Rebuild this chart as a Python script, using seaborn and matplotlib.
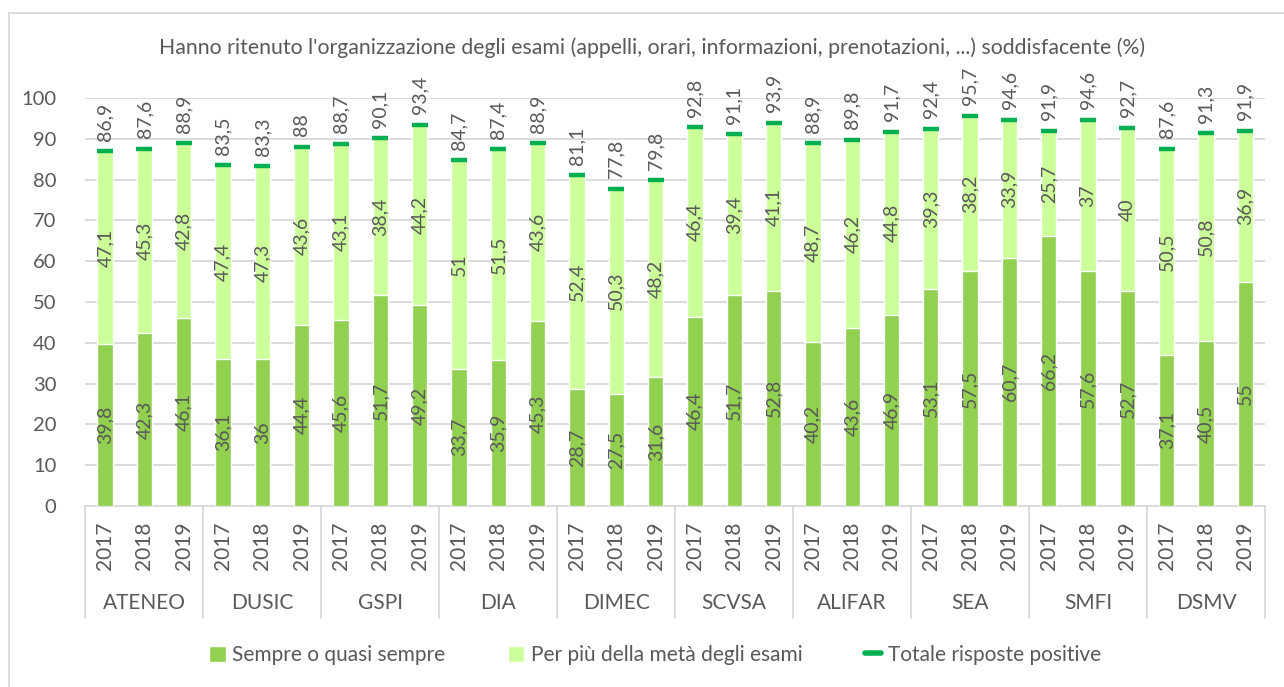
import numpy as np
import pandas as pd
import matplotlib
matplotlib.use("Agg")
import matplotlib.pyplot as plt
import seaborn as sns
from matplotlib.patches import Patch
from matplotlib.lines import Line2D
import matplotlib.transforms as mtransforms

# --- data ---
groups = ["ATENEO", "DUSIC", "GSPI", "DIA", "DIMEC", "SCVSA", "ALIFAR", "SEA", "SMFI", "DSMV"]
years = ["2017", "2018", "2019"]

sempre = [39.8, 42.3, 46.1, 36.1, 36, 44.4, 45.6, 51.7, 49.2, 33.7, 35.9, 45.3,
          28.7, 27.5, 31.6, 46.4, 51.7, 52.8, 40.2, 43.6, 46.9, 53.1, 57.5, 60.7,
          66.2, 57.6, 52.7, 37.1, 40.5, 55]
meta = [47.1, 45.3, 42.8, 47.4, 47.3, 43.6, 43.1, 38.4, 44.2, 51, 51.5, 43.6,
        52.4, 50.3, 48.2, 46.4, 39.4, 41.1, 48.7, 46.2, 44.8, 39.3, 38.2, 33.9,
        25.7, 37, 40, 50.5, 50.8, 36.9]
totale = [86.9, 87.6, 88.9, 83.5, 83.3, 88, 88.7, 90.1, 93.4, 84.7, 87.4, 88.9,
          81.1, 77.8, 79.8, 92.8, 91.1, 93.9, 88.9, 89.8, 91.7, 92.4, 95.7, 94.6,
          91.9, 94.6, 92.7, 87.6, 91.3, 91.9]

DARK = "#92D050"
LIGHT = "#CCFF99"
TOT = "#00B050"
TXT = "#595959"
GRID = "#D9D9D9"

df = pd.DataFrame({
    "gruppo": np.repeat(groups, 3),
    "anno": years * len(groups),
    "sempre": sempre,
    "meta": meta,
    "totale": totale,
})
df["key"] = df["gruppo"] + " " + df["anno"]
df["cumul"] = df["sempre"] + df["meta"]


def fmt(v):
    return f"{v:g}".replace(".", ",")


sns.set_theme(style="white")
plt.rcParams["font.family"] = ["Lato", "DejaVu Sans"]

fig = plt.figure(figsize=(12.84, 6.87), dpi=100)
ax = fig.add_axes([85.5 / 1284, 1 - 506 / 687, (1265 - 85.5) / 1284, 408 / 687])

order = list(df["key"])
sns.barplot(data=df, x="key", y="cumul", order=order, color=LIGHT, width=0.39,
            saturation=1, ax=ax, zorder=2)
sns.barplot(data=df, x="key", y="sempre", order=order, color=DARK, width=0.39,
            saturation=1, ax=ax, zorder=3)
sns.scatterplot(data=df, x="key", y="totale", marker="_", s=135, linewidth=3.2,
                color=TOT, edgecolor=TOT, ax=ax, zorder=4, legend=False)

# value labels
for i, row in df.iterrows():
    ax.text(i, row["sempre"] / 2, fmt(row["sempre"]), rotation=90, ha="center",
            va="center", fontsize=14, color=TXT, zorder=5)
    ax.text(i, row["sempre"] + row["meta"] / 2, fmt(row["meta"]), rotation=90,
            ha="center", va="center", fontsize=14, color=TXT, zorder=5)
    ax.text(i, row["totale"] + 2.6, fmt(row["totale"]), rotation=90, ha="center",
            va="bottom", fontsize=14, color=TXT, zorder=5, clip_on=False)

ax.set_ylim(0, 100)
ax.set_xlim(-0.5, len(order) - 0.5)
ax.set_yticks(range(0, 101, 10))
ax.yaxis.grid(True, color=GRID, linewidth=1.3, zorder=0)
ax.set_axisbelow(True)
for s in ["top", "right", "left"]:
    ax.spines[s].set_visible(False)
ax.spines["bottom"].set_color(GRID)
ax.spines["bottom"].set_linewidth(1.3)
ax.tick_params(axis="y", length=0, labelsize=14.5, labelcolor=TXT, pad=21)
ax.set_xticks(range(len(order)))
ax.set_xticklabels(df["anno"], rotation=90, fontsize=15, color=TXT)
ax.tick_params(axis="x", length=0, pad=11)
ax.set_xlabel("")
ax.set_ylabel("")

# group labels and separators below the axis
trans = mtransforms.blended_transform_factory(ax.transData, ax.transAxes)
for g in range(len(groups) + 1):
    ax.add_line(Line2D([3 * g - 0.5, 3 * g - 0.5], [0, -0.275], transform=trans,
                       color=GRID, linewidth=1.3, clip_on=False))
for g, name in enumerate(groups):
    ax.text(3 * g + 1, -0.238, name, transform=trans, ha="center", va="center",
            fontsize=15, color=TXT)

fig.text(652 / 1284, 1 - 48 / 687,
         "Hanno ritenuto l'organizzazione degli esami (appelli, orari, informazioni, prenotazioni, ...) soddisfacente (%)",
         ha="center", va="center", fontsize=15.3, color=TXT)

handles = [
    Patch(facecolor=DARK, label="Sempre o quasi sempre"),
    Patch(facecolor=LIGHT, label="Per più della metà degli esami"),
    Line2D([], [], color=TOT, linewidth=4, label="Totale risposte positive"),
]
leg = fig.legend(handles=handles, loc="center", bbox_to_anchor=(655 / 1284, 1 - 655 / 687),
                 ncol=3, frameon=False, fontsize=15, handlelength=0.8, handleheight=0.8,
                 handletextpad=0.3, columnspacing=3.0)
for t in leg.get_texts():
    t.set_color(TXT)

# outer chart border
fig.add_artist(Line2D([9 / 1284, 1], [1 - 13 / 687, 1 - 13 / 687], color=GRID, linewidth=1.3))
fig.add_artist(Line2D([9 / 1284, 9 / 1284], [0, 1 - 13 / 687], color=GRID, linewidth=1.3))

fig.savefig("out.png", dpi=100)
